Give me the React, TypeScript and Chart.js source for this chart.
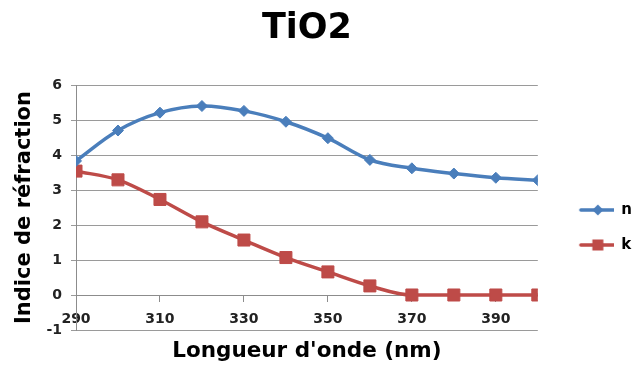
import React, { useEffect, useRef } from "react";
import { Chart, registerables } from "chart.js";

Chart.register(...registerables);

const wavelengths = [290, 300, 310, 320, 330, 340, 350, 360, 370, 380, 390, 400];
const nValues = [3.83, 4.7, 5.21, 5.4, 5.26, 4.95, 4.48, 3.86, 3.62, 3.47, 3.35, 3.28];
const kValues = [3.54, 3.29, 2.73, 2.09, 1.57, 1.07, 0.66, 0.26, 0, 0, 0, 0];
const xTickLabels = [290, 310, 330, 350, 370, 390];
const seriesNames = ["n", "k"];
const chartTitle = "TiO2";
const xTitle = "Longueur d'onde (nm)";
const yTitle = "Indice de réfraction";

const BLUE = "#4A7EBB";
const RED = "#BE4B48";
const FONT = "'DejaVu Sans', sans-serif";

function legendSymbol(color: string, style: "diamond" | "square") {
  const c = document.createElement("canvas");
  c.width = 56;
  c.height = 14;
  const ctx = c.getContext("2d")!;
  ctx.strokeStyle = color;
  ctx.lineWidth = 3.5;
  ctx.lineCap = "round";
  ctx.beginPath();
  ctx.moveTo(23, 7);
  ctx.lineTo(57, 7);
  ctx.stroke();
  ctx.fillStyle = color;
  const cx = 40;
  if (style === "diamond") {
    ctx.beginPath();
    ctx.moveTo(cx, 1.5);
    ctx.lineTo(cx + 5.5, 7);
    ctx.lineTo(cx, 12.5);
    ctx.lineTo(cx - 5.5, 7);
    ctx.closePath();
    ctx.fill();
  } else {
    ctx.fillRect(cx - 5.5, 1.5, 11, 11);
  }
  return c;
}

export default function App() {
  const ref = useRef<HTMLCanvasElement>(null);
  useEffect(() => {
    if (!ref.current) return;
    const symbols = [legendSymbol(BLUE, "diamond"), legendSymbol(RED, "square")];
    const chart = new Chart(ref.current, {
      type: "line",
      data: {
        datasets: [
          {
            label: seriesNames[0],
            data: wavelengths.map((x, i) => ({ x, y: nValues[i] })),
            borderColor: BLUE,
            backgroundColor: BLUE,
            borderWidth: 3.5,
            tension: 0.35,
            pointStyle: "rectRot",
            pointRadius: 5.5,
            pointBorderWidth: 1,
          },
          {
            label: seriesNames[1],
            data: wavelengths.map((x, i) => ({ x, y: kValues[i] })),
            borderColor: RED,
            backgroundColor: RED,
            borderWidth: 3.5,
            cubicInterpolationMode: "monotone",
            pointStyle: "rect",
            pointRadius: 8.5,
            pointBorderWidth: 1,
          },
        ],
      },
      options: {
        responsive: false,
        animation: false,
        layout: { padding: { left: 12, right: -6, top: 0, bottom: 0 } },
        plugins: {
          tooltip: { enabled: false },
          title: {
            display: true,
            text: chartTitle,
            fullSize: false,
            color: "#000",
            font: { family: FONT, size: 35, weight: "bold" },
            padding: { top: 8, bottom: 35 },
          },
          subtitle: {
            display: true,
            text: xTitle,
            position: "bottom",
            fullSize: false,
            color: "#000",
            font: { family: FONT, size: 21.5, weight: "bold" },
            padding: { top: 9, bottom: 4.2 },
          },
          legend: {
            position: "right",
            fullSize: false,
            title: { display: true, text: " ", font: { size: 10 }, padding: 14 },
            labels: {
              usePointStyle: true,
              pointStyleWidth: 56,
              boxHeight: 14,
              padding: 20,
              color: "#000",
              font: { family: FONT, size: 15, weight: "bold" },
              generateLabels: (ch: any) =>
                ch.data.datasets.map((ds: any, i: number) => ({
                  text: ds.label,
                  pointStyle: symbols[i],
                  fillStyle: ds.borderColor,
                  strokeStyle: ds.borderColor,
                  fontColor: "#000",
                  lineWidth: 0,
                  datasetIndex: i,
                  hidden: false,
                })),
            },
          },
        },
        scales: {
          x: {
            type: "linear",
            position: { y: 0 } as any,
            min: 290,
            max: 400,
            afterBuildTicks: (s: any) => {
              s.ticks = xTickLabels.map((v) => ({ value: v }));
            },
            grid: { drawOnChartArea: false, drawTicks: true, tickLength: 6, color: "#8c8c8c" },
            border: { display: true, color: "#8c8c8c", width: 1 },
            ticks: {
              color: "#222",
              font: { family: FONT, size: 14, weight: "bold" },
              padding: 10,
              maxRotation: 0,
              autoSkip: false,
            },
          },
          y: {
            min: -1,
            max: 6,
            afterFit: (s: any) => {
              s.width = 64;
            },
            ticks: {
              stepSize: 1,
              color: "#222",
              font: { family: FONT, size: 14, weight: "bold" },
              padding: 9,
            },
            grid: { color: "#9a9a9a", tickLength: 5, lineWidth: 1 },
            border: { display: true, color: "#8c8c8c", width: 1 },
            title: {
              display: true,
              text: yTitle,
              color: "#000",
              font: { family: FONT, size: 21, weight: "bold" },
              padding: { top: 0, bottom: 10 },
            },
          },
        },
      },
    });
    return () => chart.destroy();
  }, []);
  return (
    <div style={{ position: "fixed", left: 0, top: 0, width: 636, height: 369, background: "#fff" }}>
      <canvas ref={ref} width={636} height={369} />
    </div>
  );
}
